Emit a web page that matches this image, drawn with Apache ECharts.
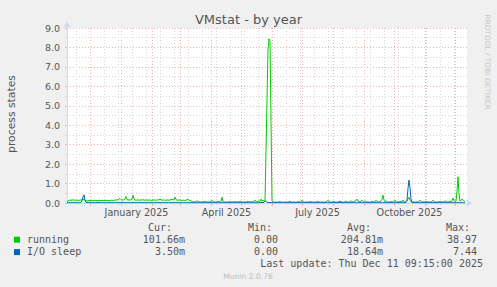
<!DOCTYPE html>
<html><head><meta charset="utf-8">
<script src="https://cdn.jsdelivr.net/npm/echarts@6/dist/echarts.min.js"></script>
<style>html,body{margin:0;padding:0;background:#f0f0f0;}#c{width:497px;height:287px;}</style>
</head><body><div id="c"></div>
<script>
// x values are day offsets from 2024-11-08 (day 0)
const startDate = '2024-11-08';
const running = [
0.06,0.10,0.14,0.15,0.14,0.15,0.16,0.14,0.15,0.14,
0.15,0.13,0.14,0.15,0.16,0.15,0.17,0.19,0.13,0.11,
0.11,0.12,0.13,0.12,0.14,0.13,0.12,0.13,0.14,0.13,
0.12,0.13,0.14,0.13,0.12,0.14,0.13,0.12,0.13,0.14,
0.13,0.14,0.12,0.13,0.14,0.15,0.13,0.14,0.15,0.16,
0.15,0.17,0.20,0.24,0.18,0.15,0.16,0.15,0.22,0.34,
0.18,0.15,0.16,0.15,0.17,0.20,0.40,0.20,0.15,0.14,
0.15,0.16,0.15,0.14,0.16,0.15,0.17,0.15,0.14,0.16,
0.15,0.14,0.16,0.15,0.14,0.13,0.15,0.16,0.14,0.15,
0.16,0.15,0.17,0.20,0.16,0.15,0.14,0.16,0.15,0.14,
0.15,0.16,0.14,0.15,0.17,0.20,0.15,0.16,0.30,0.18,
0.15,0.14,0.16,0.15,0.14,0.13,0.15,0.14,0.13,0.15,
0.17,0.20,0.14,0.12,0.10,0.08,0.06,0.05,0.06,0.08,
0.12,0.07,0.06,0.05,0.06,0.05,0.07,0.06,0.10,0.06,
0.05,0.06,0.05,0.07,0.06,0.15,0.07,0.05,0.06,0.05,
0.06,0.10,0.06,0.05,0.06,0.30,0.08,0.06,0.05,0.06,
0.05,0.06,0.05,0.08,0.06,0.05,0.06,0.05,0.07,0.06,
0.05,0.06,0.05,0.10,0.06,0.05,0.06,0.05,0.06,0.05,
0.07,0.08,0.06,0.05,0.06,0.07,0.05,0.06,0.15,0.08,
0.06,0.12,0.07,0.08,0.20,0.10,0.15,0.08,0.10,2.70,
5.30,7.90,8.45,8.30,4.20,0.10,0.06,0.05,0.04,0.05,
0.04,0.05,0.06,0.08,0.05,0.04,0.05,0.04,0.06,0.05,
0.04,0.05,0.06,0.10,0.05,0.04,0.05,0.06,0.05,0.04,
0.05,0.06,0.08,0.05,0.06,0.15,0.06,0.05,0.04,0.05,
0.06,0.05,0.04,0.10,0.05,0.06,0.05,0.04,0.05,0.06,
0.05,0.10,0.05,0.04,0.05,0.06,0.05,0.04,0.06,0.05,
0.08,0.15,0.06,0.05,0.04,0.05,0.06,0.10,0.05,0.04,
0.05,0.06,0.05,0.12,0.06,0.05,0.04,0.05,0.06,0.10,
0.05,0.04,0.06,0.05,0.12,0.06,0.05,0.08,0.10,0.12,
0.20,0.10,0.06,0.05,0.08,0.15,0.07,0.06,0.12,0.06,
0.05,0.06,0.05,0.04,0.05,0.10,0.06,0.05,0.06,0.15,
0.08,0.06,0.05,0.06,0.10,0.20,0.40,0.15,0.06,0.12,
0.06,0.05,0.06,0.05,0.08,0.06,0.05,0.06,0.15,0.06,
0.05,0.06,0.05,0.10,0.06,0.05,0.15,0.06,0.05,0.06,
0.10,0.20,0.30,0.15,0.06,0.05,0.06,0.05,0.04,0.06,
0.05,0.06,0.08,0.15,0.06,0.05,0.06,0.05,0.06,0.10,
0.05,0.06,0.05,0.06,0.05,0.08,0.15,0.06,0.05,0.06,
0.05,0.06,0.05,0.10,0.05,0.06,0.05,0.06,0.08,0.12,
0.06,0.05,0.06,0.10,0.06,0.08,0.25,0.12,0.08,0.10,
0.60,1.35,0.50,0.10,0.12,0.20,0.15,0.08,0.10
];
const ioSleep = [
0.02,0.01,0.01,0.02,0.01,0.01,0.02,0.01,0.01,0.02,
0.01,0.02,0.01,0.01,0.03,0.12,0.30,0.42,0.15,0.03,
0.02,0.04,0.02,0.05,0.02,0.01,0.02,0.01,0.01,0.02,
0.01,0.02,0.03,0.01,0.02,0.01,0.01,0.02,0.01,0.01,
0.02,0.01,0.01,0.02,0.01,0.02,0.01,0.01,0.02,0.01,
0.01,0.02,0.01,0.01,0.02,0.04,0.02,0.01,0.01,0.02,
0.01,0.01,0.02,0.01,0.01,0.02,0.03,0.01,0.01,0.02,
0.01,0.02,0.01,0.01,0.02,0.01,0.01,0.02,0.01,0.01,
0.02,0.01,0.01,0.03,0.01,0.02,0.01,0.01,0.02,0.01,
0.01,0.02,0.01,0.01,0.02,0.01,0.01,0.02,0.01,0.01,
0.02,0.01,0.01,0.02,0.01,0.01,0.02,0.01,0.02,0.01,
0.01,0.02,0.01,0.01,0.02,0.01,0.01,0.02,0.01,0.01,
0.02,0.01,0.01,0.02,0.01,0.01,0.01,0.01,0.02,0.01,
0.01,0.01,0.02,0.01,0.01,0.01,0.02,0.01,0.01,0.01,
0.01,0.02,0.01,0.01,0.01,0.01,0.02,0.01,0.01,0.01,
0.02,0.01,0.01,0.01,0.01,0.02,0.01,0.01,0.01,0.01,
0.01,0.01,0.02,0.01,0.01,0.01,0.01,0.02,0.01,0.01,
0.01,0.02,0.01,0.01,0.01,0.01,0.02,0.01,0.01,0.01,
0.02,0.01,0.01,0.01,0.02,0.01,0.01,0.01,0.02,0.01,
0.01,0.01,0.02,0.01,0.02,0.03,0.02,0.03,0.10,0.08,
0.04,0.02,0.02,0.03,0.02,0.01,0.01,0.01,0.01,0.02,
0.01,0.02,0.01,0.01,0.02,0.01,0.01,0.02,0.01,0.01,
0.02,0.01,0.01,0.02,0.01,0.01,0.02,0.01,0.01,0.02,
0.01,0.01,0.02,0.01,0.01,0.02,0.01,0.01,0.02,0.01,
0.01,0.02,0.01,0.01,0.02,0.01,0.01,0.02,0.01,0.01,
0.02,0.01,0.01,0.02,0.01,0.01,0.02,0.01,0.01,0.02,
0.01,0.01,0.02,0.01,0.01,0.02,0.01,0.01,0.02,0.01,
0.01,0.02,0.01,0.04,0.02,0.03,0.01,0.02,0.01,0.01,
0.02,0.01,0.01,0.02,0.01,0.01,0.02,0.01,0.01,0.02,
0.01,0.01,0.02,0.04,0.02,0.01,0.01,0.02,0.01,0.01,
0.02,0.01,0.01,0.02,0.01,0.01,0.02,0.01,0.01,0.02,
0.01,0.01,0.02,0.01,0.01,0.02,0.01,0.01,0.02,0.01,
0.01,0.02,0.01,0.01,0.02,0.01,0.01,0.02,0.01,0.01,
0.01,0.02,0.01,0.01,0.02,0.01,0.01,0.02,0.01,0.03,
0.15,0.75,1.18,0.80,0.20,0.03,0.02,0.01,0.01,0.02,
0.01,0.02,0.01,0.01,0.02,0.01,0.01,0.02,0.01,0.01,
0.02,0.01,0.01,0.02,0.01,0.01,0.02,0.01,0.01,0.02,
0.01,0.01,0.02,0.01,0.01,0.02,0.01,0.01,0.02,0.01,
0.01,0.02,0.01,0.01,0.02,0.01,0.01,0.02,0.01,0.01,
0.01,0.02,0.01,0.01,0.02,0.01,0.01,0.01,0.004
];
// grid / tick positions (days from startDate)
const monthStartDays = [23,54,85,113,144,174,205,235,266,297,327,358,388];
const biweeklyDays = [9,23,37,51,65,79,93,107,121,135,149,163,177,191,205,219,233,247,261,275,289,303,317,331,345,359,373,387];
const xLabelDays = [69.5,159.5,250.5,342.5];
const xLabelNames = ['January 2025','April 2025','July 2025','October 2025'];
const yMin = 0, yMax = 9, yStep = 1;
// legend
const seriesNames = ['running','I/O sleep'];
const legendHeaders = ['Cur:','Min:','Avg:','Max:'];
const curValues = ['101.66m','3.50m'];
const minValues = ['0.00','0.00'];
const avgValues = ['204.81m','18.64m'];
const maxValues = ['38.97','7.44'];
const titleText = 'VMstat - by year';
const yAxisTitle = 'process states';
const lastUpdate = 'Last update: Thu Dec 11 09:15:00 2025';
const footer = 'Munin 2.0.76';
const sideText = 'RRDTOOL / TOBI OETIKER';

const COLORS = ['#00CC00','#0066B3'];
const AXIS = '#CFD6F8';
const MGRID = '#efb4b4';
const GRID = '#d6d6d6';
const FONT = '#555555';
const DASH = [1,2];

const chart = echarts.init(document.getElementById('c'), null, {renderer:'svg'});

function txt(x,y,text,font,fill,align,valign,rot){
  return {type:'text', x:x, y:y, rotation:rot||0, silent:true,
    style:{text:text, font:font, fill:fill, align:align, verticalAlign:valign, textAlign:align, textVerticalAlign:valign}};
}
const mono = '10px "DejaVu Sans Mono"';
const graphics = [
  txt(248.5,19.5,titleText,'13px "DejaVu Sans"',FONT,'center','middle'),
  txt(11,114,yAxisTitle,'10.8px "DejaVu Sans"',FONT,'center','middle',Math.PI/2),
  txt(487,62,sideText,'7.4px "DejaVu Sans"','#c6c6c6','center','middle',-Math.PI/2),
  txt(172,227.3,legendHeaders[0],mono,FONT,'right','middle'),
  txt(272,227.3,legendHeaders[1],mono,FONT,'right','middle'),
  txt(371,227.3,legendHeaders[2],mono,FONT,'right','middle'),
  txt(470,227.3,legendHeaders[3],mono,FONT,'right','middle'),
  txt(483,263.3,lastUpdate,mono,FONT,'right','middle'),
  txt(248,276,footer,'7.6px "DejaVu Sans"','#bdbdbd','center','middle')
];
const rowY = [239.2,251.6];
for (let i=0;i<seriesNames.length;i++){
  graphics.push({type:'rect', silent:true, shape:{x:14,y:rowY[i]-2.5,width:6,height:6}, style:{fill:COLORS[i]}});
  graphics.push(txt(27,rowY[i],seriesNames[i],mono,FONT,'left','middle'));
  graphics.push(txt(185,rowY[i],curValues[i],mono,FONT,'right','middle'));
  graphics.push(txt(278,rowY[i],minValues[i],mono,FONT,'right','middle'));
  graphics.push(txt(383,rowY[i],avgValues[i],mono,FONT,'right','middle'));
  graphics.push(txt(477,rowY[i],maxValues[i],mono,FONT,'right','middle'));
}

const toXY = arr => arr.map((v,i)=>[i,v]);

chart.setOption({
  animation:false,
  backgroundColor:'#f0f0f0',
  grid:{left:67, top:28, width:400, height:175, show:true, backgroundColor:'#ffffff', borderWidth:0},
  xAxis:[
    {type:'value', position:'bottom', min:0, max:400,
     axisLine:{show:false},
     axisTick:{show:true, customValues:biweeklyDays, length:2, lineStyle:{color:GRID}},
     axisLabel:{show:false},
     splitLine:{show:true, lineStyle:{color:GRID, type:DASH, width:1}}},
    {type:'value', position:'bottom', min:0, max:400,
     axisLine:{show:true, onZero:false, lineStyle:{color:AXIS, width:1}, symbol:['none','arrow'], symbolSize:[6,6], symbolOffset:[0,5]},
     axisTick:{show:true, customValues:monthStartDays, length:3, lineStyle:{color:MGRID}},
     axisLabel:{show:true, customValues:xLabelDays, margin:4, color:FONT, fontFamily:'DejaVu Sans', fontSize:9.6,
       formatter:v=>{const i=xLabelDays.indexOf(v); return i>=0?xLabelNames[i]:'';}},
     splitLine:{show:true, lineStyle:{color:MGRID, type:DASH, width:1}}}
  ],
  yAxis:{type:'value', min:yMin, max:yMax, interval:yStep,
    axisLine:{show:true, lineStyle:{color:AXIS, width:1}, symbol:['none','arrow'], symbolSize:[6,6], symbolOffset:[0,6]},
    axisTick:{show:true, length:2, lineStyle:{color:MGRID}},
    minorTick:{show:true, splitNumber:2, length:2, lineStyle:{color:GRID}},
    axisLabel:{margin:7, color:FONT, fontFamily:'DejaVu Sans', fontSize:9.5, formatter:v=>v.toFixed(1)},
    splitLine:{show:true, lineStyle:{color:MGRID, type:DASH, width:1}},
    minorSplitLine:{show:true, lineStyle:{color:GRID, type:DASH, width:1}}},
  series:[
    {name:seriesNames[0], type:'line', xAxisIndex:1, data:toXY(running), showSymbol:false, symbol:'none',
     lineStyle:{color:COLORS[0], width:1}, itemStyle:{color:COLORS[0]}},
    {name:seriesNames[1], type:'line', xAxisIndex:1, data:toXY(ioSleep), showSymbol:false, symbol:'none',
     lineStyle:{color:COLORS[1], width:1}, itemStyle:{color:COLORS[1]}}
  ],
  graphic:graphics
});
</script></body></html>
